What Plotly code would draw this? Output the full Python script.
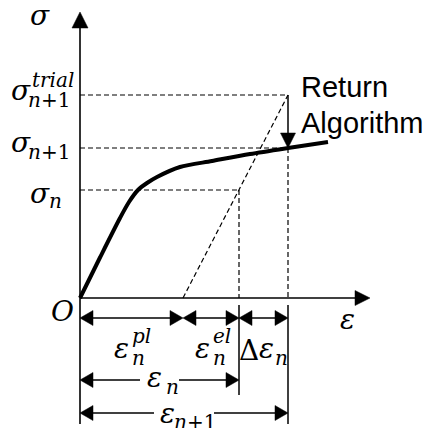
import plotly.graph_objects as go

# Strain marks on the ε axis
EPS_PL = 1.03     # plastic strain at step n
EPS_N = 1.59      # total strain at step n
EPS_N1 = 2.08     # total strain at step n+1

# Stress levels on the σ axis
SIG_N = 1.08
SIG_N1 = 1.50
SIG_TRIAL = 2.03

# Stress-strain curve: elastic branch followed by hardening
curve_eps = [0.0, 0.20, 0.40, 0.49, 0.58, 0.67, 0.77, 1.00, 1.32, 1.70, 2.08, 2.48]
curve_sig = [0.0, 0.405, 0.80, 0.96, 1.08, 1.15, 1.21, 1.31, 1.37, 1.44, 1.50, 1.56]

# Axis extents and dimension-line rows (same units as the data)
X_TIP = 2.90
Y_TIP = 2.86
Y_BOTTOM = -1.26
ROW1, ROW2, ROW3 = -0.20, -0.82, -1.15

BLACK = "black"
MATH = "DejaVu Serif"
SANS = "Liberation Sans"
BIG = 28
SMALL = 20

shapes = []
annotations = []


def seg(x0, y0, x1, y1, width=1.6, dash=None):
    line = dict(color=BLACK, width=width)
    if dash:
        line["dash"] = dash
    shapes.append(dict(type="line", xref="x", yref="y", x0=x0, y0=y0, x1=x1, y1=y1,
                       line=line, layer="above"))


def head(tx, ty, direction, length=0.14, half=0.075):
    """Filled triangular arrowhead whose tip sits at (tx, ty)."""
    if direction == "right":
        pts = [(tx, ty), (tx - length, ty + half), (tx - length, ty - half)]
    elif direction == "left":
        pts = [(tx, ty), (tx + length, ty + half), (tx + length, ty - half)]
    elif direction == "up":
        pts = [(tx, ty), (tx - half, ty - length), (tx + half, ty - length)]
    else:
        pts = [(tx, ty), (tx - half, ty + length), (tx + half, ty + length)]
    path = "M " + " L ".join(f"{x:.4f},{y:.4f}" for x, y in pts) + " Z"
    shapes.append(dict(type="path", xref="x", yref="y", path=path,
                       fillcolor=BLACK, line=dict(color=BLACK, width=0.5), layer="above"))


def dim(x0, x1, y, gap=None):
    """Dimension line with outward arrowheads, optionally broken in the middle."""
    L = 0.13
    if gap:
        mid = (x0 + x1) / 2
        seg(x0 + L, y, mid - gap, y, width=1.5)
        seg(mid + gap, y, x1 - L, y, width=1.5)
    else:
        seg(x0 + L, y, x1 - L, y, width=1.5)
    head(x0, y, "left", length=L)
    head(x1, y, "right", length=L)


def put(text, x, y, dx, dy, size=BIG, family=MATH, italic=True, xanchor="center"):
    t = f"<i>{text}</i>" if italic else text
    annotations.append(dict(text=t, x=x, y=y, xref="x", yref="y", showarrow=False,
                            xshift=dx, yshift=-dy, xanchor=xanchor, yanchor="middle",
                            font=dict(family=family, size=size, color=BLACK)))


# Axes with arrowheads
seg(0, Y_BOTTOM, 0, Y_TIP - 0.14)
head(0, Y_TIP, "up", length=0.16, half=0.08)
seg(0, 0, X_TIP - 0.14, 0)
head(X_TIP, 0, "right", length=0.15, half=0.075)

# Dashed guide lines
DASH = "5px,3px"
seg(0, SIG_TRIAL, EPS_N1, SIG_TRIAL, width=1.2, dash=DASH)
seg(0, SIG_N1, EPS_N1, SIG_N1, width=1.2, dash=DASH)
seg(0, SIG_N, EPS_N, SIG_N, width=1.2, dash=DASH)
seg(EPS_N, SIG_N, EPS_N, 0, width=1.2, dash=DASH)
seg(EPS_N1, SIG_N1, EPS_N1, 0, width=1.2, dash=DASH)
# Elastic predictor (parallel to the initial elastic slope)
seg(EPS_PL, 0, EPS_N1, SIG_TRIAL, width=1.2, dash=DASH)

# Return mapping arrow from trial stress back to the curve
seg(EPS_N1, SIG_TRIAL, EPS_N1, SIG_N1 + 0.12, width=1.5)
head(EPS_N1, SIG_N1, "down", length=0.15, half=0.075)

# Extension lines below the ε axis
seg(EPS_N, -0.07, EPS_N, -0.97, width=1.5)
seg(EPS_N1, -0.07, EPS_N1, Y_BOTTOM, width=1.5)

# Dimension lines
dim(0, EPS_PL, ROW1)
dim(EPS_PL, EPS_N, ROW1)
dim(EPS_N, EPS_N1, ROW1)
dim(0, EPS_N, ROW2, gap=0.195)
dim(0, EPS_N1, ROW3, gap=0.30)

# Axis labels
put("σ", 0, Y_TIP, -40, 3)
put("O", 0, 0, -18, 13)
put("ε", X_TIP, 0, -23, 21)

# Stress labels
put("σ", 0, SIG_TRIAL, -59, -5)
put("n</i>+1<i>", 0, SIG_TRIAL, -31, 5, size=SMALL)
put("trial", 0, SIG_TRIAL, -27, -15, size=SMALL)
put("σ", 0, SIG_N1, -59, -6)
put("n</i>+1<i>", 0, SIG_N1, -31, 4, size=SMALL)
put("σ", 0, SIG_N, -40, 3)
put("n", 0, SIG_N, -25, 11, size=SMALL)

# Strain increment labels (row 1)
m1 = EPS_PL / 2
put("ε", m1, ROW1, -10, 30)
put("n", m1, ROW1, 7, 40, size=SMALL)
put("pl", m1, ROW1, 10, 18, size=SMALL)
m2 = (EPS_PL + EPS_N) / 2
put("ε", m2, ROW1, -9, 30)
put("n", m2, ROW1, 8, 40, size=SMALL)
put("el", m2, ROW1, 11, 18, size=SMALL)
m3 = (EPS_N + EPS_N1) / 2
put("Δ", m3, ROW1, -15, 32, italic=False)
put("ε", m3, ROW1, 3, 30)
put("n", m3, ROW1, 18, 40, size=SMALL)

# Total strain labels (rows 2 and 3)
put("ε", EPS_N / 2, ROW2, -5, -3)
put("n", EPS_N / 2, ROW2, 13, 7, size=SMALL)
put("ε", EPS_N1 / 2, ROW3, -17, 0)
put("n</i>+1<i>", EPS_N1 / 2, ROW3, 11, 9, size=SMALL)

# Return algorithm caption
put("Return", EPS_N1, SIG_TRIAL, 11, -8, size=29, family=SANS, italic=False, xanchor="left")
put("Algorithm", EPS_N1, SIG_TRIAL, 11, 28, size=29, family=SANS, italic=False, xanchor="left")

fig = go.Figure()
fig.add_trace(go.Scatter(x=curve_eps, y=curve_sig, mode="lines",
                         line=dict(color=BLACK, width=4, shape="spline", smoothing=0.8),
                         hoverinfo="skip", showlegend=False))

fig.update_layout(
    width=424, height=428, autosize=False,
    margin=dict(l=0, r=0, t=0, b=0, pad=0),
    paper_bgcolor="white", plot_bgcolor="white",
    xaxis=dict(range=[-0.80, 3.44], visible=False, fixedrange=True),
    yaxis=dict(range=[-1.30, 2.98], visible=False, fixedrange=True),
    shapes=shapes, annotations=annotations, showlegend=False,
)

fig.write_html("out.html", config={"displayModeBar": False})
